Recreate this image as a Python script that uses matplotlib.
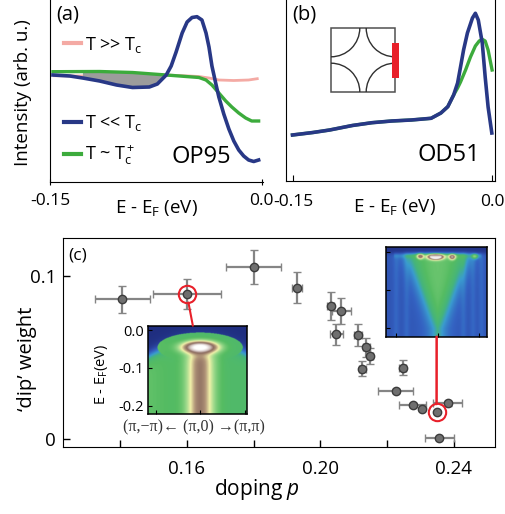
import numpy as np
import matplotlib
matplotlib.use("Agg")
import matplotlib.pyplot as plt
from matplotlib.colors import LinearSegmentedColormap
from matplotlib.patches import Arc, Rectangle, ConnectionPatch
from matplotlib.lines import Line2D

plt.rcParams['font.family'] = ['Open Sans', 'DejaVu Sans']
plt.rcParams['mathtext.fontset'] = 'custom'
plt.rcParams['mathtext.rm'] = 'Open Sans'
plt.rcParams['mathtext.it'] = 'Open Sans:italic'
plt.rcParams['mathtext.bf'] = 'Open Sans:bold'
plt.rcParams['axes.unicode_minus'] = False

# ---------------- data: panel (a) OP95 EDCs ----------------
E_a_cold = [-0.1479, -0.1359, -0.1268, -0.1148, -0.1028, -0.0915, -0.0796, -0.0739, -0.0676,
            -0.0641, -0.0606, -0.0563, -0.0528, -0.0493, -0.0458, -0.0423, -0.0394, -0.0373,
            -0.0352, -0.0324, -0.0303, -0.0268, -0.0232, -0.0197, -0.0162, -0.0127, -0.0092,
            -0.0056, -0.0021]
I_a_cold = [1.07, 1.06, 1.04, 1.01, 0.97, 0.945, 0.95, 0.98, 1.07,
            1.16, 1.30, 1.49, 1.60, 1.645, 1.653, 1.62, 1.49, 1.35,
            1.16, 0.98, 0.85, 0.68, 0.53, 0.41, 0.32, 0.26, 0.22,
            0.205, 0.22]
E_a_tc = [-0.1479, -0.1148, -0.0915, -0.0676, -0.0444, -0.0394, -0.0352, -0.0303, -0.0254,
          -0.0211, -0.0162, -0.0113, -0.0070, -0.0021]
I_a_tc = [1.103, 1.105, 1.095, 1.07, 1.045, 1.02, 0.97, 0.89, 0.81,
          0.75, 0.69, 0.64, 0.61, 0.61]
E_a_hot = [-0.1479, -0.1289, -0.1077, -0.0796, -0.0585, -0.0444, -0.0373, -0.0303, -0.0197,
           -0.0092, -0.0021]
I_a_hot = [1.063, 1.06, 1.07, 1.075, 1.065, 1.055, 1.04, 1.02, 1.015, 1.02, 1.035]

# ---------------- data: panel (b) OD51 EDCs ----------------
E_b_cold = [-0.1505, -0.1351, -0.1225, -0.1054, -0.0906, -0.0757, -0.0609, -0.0460, -0.0386,
            -0.0334, -0.0290, -0.0260, -0.0238, -0.0215, -0.0186, -0.0148, -0.0126, -0.0104,
            -0.0074, -0.0052, -0.0030, -0.0002]
I_b_cold = [0.46, 0.485, 0.51, 0.555, 0.583, 0.60, 0.61, 0.627, 0.68,
            0.743, 0.86, 0.98, 1.14, 1.31, 1.48, 1.63, 1.677, 1.61,
            1.38, 1.04, 0.74, 0.48]
E_b_tc = [-0.1505, -0.1351, -0.1225, -0.1054, -0.0906, -0.0757, -0.0609, -0.0460, -0.0386,
          -0.0334, -0.0290, -0.0260, -0.0238, -0.0200, -0.0163, -0.0126, -0.0097, -0.0074,
          -0.0052, -0.0030, -0.0015, 0.0]
I_b_tc = [0.46, 0.485, 0.51, 0.555, 0.583, 0.60, 0.61, 0.627, 0.68,
          0.743, 0.86, 0.93, 0.99, 1.11, 1.24, 1.35, 1.40, 1.417,
          1.40, 1.31, 1.21, 1.11]

# ---------------- data: panel (c) dip weight vs doping ----------------
doping = [0.1407, 0.1600, 0.1800, 0.1931, 0.2031, 0.2063, 0.2048, 0.2113, 0.2138,
          0.2149, 0.2126, 0.2246, 0.2226, 0.2276, 0.2303, 0.2348, 0.2381, 0.2356]
dip_weight = [0.0857, 0.0886, 0.1055, 0.0927, 0.0814, 0.0786, 0.0641, 0.0637, 0.0561,
              0.0508, 0.0429, 0.0437, 0.0294, 0.0208, 0.0184, 0.0163, 0.0218, 0.0004]
doping_err = [0.0083, 0.0102, 0.0082, 0.0015, 0.0010, 0.0028, 0.0020, 0.0012, 0.0010,
              0.0010, 0.0010, 0.0010, 0.0052, 0.0040, 0.0, 0.0, 0.0043, 0.0044]
weight_err = [0.0083, 0.0092, 0.0104, 0.0094, 0.0085, 0.0080, 0.0064, 0.0065, 0.0056,
              0.0048, 0.0046, 0.0046, 0.0015, 0.0015, 0.0, 0.0, 0.0015, 0.0]
highlight_idx = [1, 15]

# ---------------- inset spectral-map model parameters ----------------
# left (OP) map: spot and column along (pi,-pi)-(pi,0)-(pi,pi)
L_bg = 0.42
L_spot = dict(k=0.0, E=-0.047, sk=0.32, sE=0.013, amp=0.60)
L_col = dict(k=0.0, sk=0.21, E_on=-0.058, amp=0.37)
L_dome = dict(E0=-0.027, curv=0.03, w=0.009)
# right (OD) map: V-shaped band plus bright spots
R_bg = 0.17
R_vee = dict(E_tip=-0.20, w0=0.04, slope=3.7, amp=0.26, edge=0.11)
R_spots_k = [-0.05, -0.42, 0.35, 0.90]
R_spots_E = [-0.012, -0.010, -0.012, -0.010]
R_spots_amp = [0.72, 0.42, 0.45, 0.25]
R_spots_sk = [0.14, 0.06, 0.06, 0.06]
R_stripes_k = [-1.0, -0.75, 0.62, 0.85, 1.05]

# ---------------- figure ----------------
W, H = 506, 514
fig = plt.figure(figsize=(W / 100, H / 100), dpi=100)


def px_axes(x0, y0, x1, y1, **kw):
    return fig.add_axes([x0 / W, 1 - y1 / H, (x1 - x0) / W, (y1 - y0) / H], **kw)


navy = '#283886'
green = '#3cab3c'
pink = '#f4aaa4'

# ---- panel (a)
axa = px_axes(50, -1, 263, 182)
axa.plot(E_a_hot, I_a_hot, color=pink, lw=2.0, solid_capstyle='butt')
Eg = np.linspace(-0.127, -0.0676, 200)
cold_g = np.interp(Eg, E_a_cold, I_a_cold)
tc_g = np.interp(Eg, E_a_tc, I_a_tc)
axa.fill_between(Eg, cold_g, tc_g, where=tc_g > cold_g, color='#9c9c9c', lw=0, zorder=2.5)
axa.plot(E_a_tc, I_a_tc, color=green, lw=2.4, zorder=3)
axa.plot(E_a_cold, I_a_cold, color=navy, lw=2.6, zorder=3.5)
axa.set_xlim(-0.15, 0.001)
axa.set_ylim(0, 1.83)
axa.set_xticks([-0.15, 0.0])
axa.set_xticklabels(['-0.15', '0.0'])
axa.set_yticks([])
for s in ['top', 'right']:
    axa.spines[s].set_visible(False)
axa.tick_params(axis='x', direction='inout', length=4, labelsize=12.5, pad=6)
axa.set_xlabel(r'E - E$_\mathrm{F}$ (eV)', fontsize=13.5)
axa.xaxis.set_label_coords(0.5, -0.09)
axa.set_ylabel('Intensity (arb. u.)', fontsize=13.5, va='center')
axa.yaxis.set_label_coords(-0.125, 0.49)
axa.text(0.03, 0.915, '(a)', transform=axa.transAxes, fontsize=14.5, va='center', ha='left')
axa.text(0.71, 0.137, 'OP95', transform=axa.transAxes, fontsize=17, va='center', ha='center')
leg1 = axa.legend(handles=[Line2D([], [], color=pink, lw=3)], labels=[r'T >> T$_\mathrm{c}$'],
                  loc='center left', bbox_to_anchor=(0.065, 0.75), frameon=False, fontsize=13,
                  handlelength=0.95, handletextpad=0.2, borderpad=0, borderaxespad=0)
axa.add_artist(leg1)
axa.legend(handles=[Line2D([], [], color=navy, lw=3), Line2D([], [], color=green, lw=3)],
           labels=[r'T << T$_\mathrm{c}$', r'T ~ T$_\mathrm{c}^+$'],
           loc='center left', bbox_to_anchor=(0.065, 0.228), frameon=False, fontsize=13,
           handlelength=0.95, handletextpad=0.2, borderpad=0, borderaxespad=0, labelspacing=0.55)

# ---- panel (b)
axb = px_axes(286, -1, 495, 181)
axb.plot(E_b_tc, I_b_tc, color=green, lw=2.4)
axb.plot(E_b_cold, I_b_cold, color=navy, lw=2.6)
axb.set_xlim(-0.1554, 0.0022)
axb.set_ylim(0, 1.82)
axb.set_xticks([-0.15, 0.0])
axb.set_xticklabels(['-0.15', '0.0'])
axb.set_yticks([])
axb.spines['top'].set_visible(False)
axb.tick_params(axis='x', direction='in', length=4, labelsize=12.5, pad=9)
axb.set_xlabel(r'E - E$_\mathrm{F}$ (eV)', fontsize=13.5)
axb.xaxis.set_label_coords(0.52, -0.09)
axb.text(0.03, 0.915, '(b)', transform=axb.transAxes, fontsize=14.5, va='center', ha='left')
axb.text(0.777, 0.144, 'OD51', transform=axb.transAxes, fontsize=17, va='center', ha='center')

# Brillouin-zone sketch inset
axz = px_axes(331, 28, 395, 92)
axz.set_xlim(0, 1)
axz.set_ylim(0, 1)
axz.axis('off')
axz.add_patch(Rectangle((0, 0), 1, 1, fill=False, ec='#505050', lw=1.1, clip_on=False))
for cx, cy, t1, t2 in [(0, 0, 0, 90), (1, 0, 90, 180), (1, 1, 180, 270), (0, 1, 270, 360)]:
    axz.add_patch(Arc((cx, cy), 0.9, 0.9, theta1=t1, theta2=t2, color='#303030', lw=1.0))
axz.add_patch(Rectangle((0.95, 0.22), 0.105, 0.545, color='#e8202a', lw=0, clip_on=False))

# ---- panel (c)
axc = px_axes(63, 238, 495, 447)
axc.errorbar(doping, dip_weight, xerr=doping_err, yerr=weight_err, fmt='o', ms=6,
             mfc='#6f6f6f', mec='#3c3c3c', mew=1.0, ecolor='#858585', elinewidth=1.6,
             capsize=3, capthick=1.4, zorder=3)
hx = [doping[i] for i in highlight_idx]
hy = [dip_weight[i] for i in highlight_idx]
axc.plot(hx, hy, 'o', ms=12.5, mfc='none', mec='#e8202a', mew=1.5, zorder=4)
axc.set_xlim(0.1229, 0.2523)
axc.set_ylim(-0.0049, 0.1231)
axc.set_xticks([0.14, 0.16, 0.18, 0.20, 0.22, 0.24])
axc.set_xticklabels(['', '0.16', '', '0.20', '', '0.24'])
axc.set_yticks([0, 0.1])
axc.set_yticklabels(['0', '0.1'])
axc.tick_params(direction='in', length=4.8, width=1, labelsize=13.5, pad=9)
axc.tick_params(axis='y', pad=5)
axc.set_xlabel('doping $p$', fontsize=15, va='baseline')
axc.xaxis.set_label_coords(0.45, -0.23)
axc.set_ylabel('\u2018dip\u2019 weight', fontsize=14.5, va='center')
axc.yaxis.set_label_coords(-0.083, 0.42)
axc.text(0.012, 0.915, '(c)', transform=axc.transAxes, fontsize=12.5, va='center', ha='left')

# colormap for ARPES-style maps
arpes_cmap = LinearSegmentedColormap.from_list('arpes', [
    (0.00, '#1a2470'), (0.12, '#2b45a2'), (0.20, '#3462c2'), (0.30, '#3a9ccf'),
    (0.37, '#45b47c'), (0.44, '#55bc62'), (0.54, '#9ad88a'), (0.64, '#f2f2aa'),
    (0.74, '#b09478'), (0.82, '#8a6a5e'), (0.92, '#d4c6c4'), (1.00, '#ffffff')])

# left map
kL = np.linspace(-1.17, 1.05, 240)
EL = np.linspace(-0.2227, 0.0114, 240)
KK, EE = np.meshgrid(kL, EL)
vin = L_bg + 0.05 * np.clip(-(KK + 0.4), 0, None)
spot_r = ((KK - L_spot['k']) / L_spot['sk']) ** 2 + ((EE - L_spot['E']) / L_spot['sE']) ** 2
vin = vin + L_spot['amp'] * np.exp(-0.5 * spot_r ** 1.3)
col = L_col['amp'] * np.exp(-0.5 * ((KK - L_col['k']) / L_col['sk']) ** 2) \
    / (1 + np.exp((EE - L_col['E_on']) / 0.006))
vin = vin + col * (1 - np.exp(-0.5 * spot_r))
edge = L_dome['E0'] - L_dome['curv'] * KK ** 2
s = 1 / (1 + np.exp(-(edge - EE) / L_dome['w']))
imgL = 0.04 + (np.clip(vin, 0, 1) - 0.04) * s
imgL = np.maximum(imgL, np.clip(vin, 0, 1) * (spot_r < 9))
axL = px_axes(148.3, 325.7, 247.3, 414.3)
axL.imshow(imgL, origin='lower', extent=[kL[0], kL[-1], EL[0], EL[-1]], aspect='auto',
           cmap=arpes_cmap, vmin=0, vmax=1, interpolation='bilinear')
axL.set_xticks([-1, 0, 1])
axL.set_xticklabels([])
axL.set_yticks([0.0, -0.1, -0.2])
axL.set_yticklabels(['0.0', '-0.1', '-0.2'])
axL.tick_params(direction='in', length=3, labelsize=10.5, pad=3)
for sp in axL.spines.values():
    sp.set_linewidth(1.1)
axL.set_ylabel(r'E - E$_\mathrm{F}$(eV)', fontsize=10.5, va='center')
axL.yaxis.set_label_coords(-0.47, 0.45)
axL.set_xlabel('(\u03c0,\u2212\u03c0)\u2190 (\u03c0,0) \u2192(\u03c0,\u03c0)', fontsize=11.5,
               family=['Liberation Serif', 'DejaVu Serif'], color='#333333')
axL.xaxis.set_label_coords(0.46, -0.06)

# right map
kR = np.linspace(-1.24, 1.18, 240)
ER = np.linspace(-0.222, 0.013, 240)
KR, ER2 = np.meshgrid(kR, ER)
half = R_vee['w0'] + R_vee['slope'] * np.clip(ER2 - R_vee['E_tip'], 0, None)
vee = R_vee['amp'] / (1 + np.exp((np.abs(KR) - half) / R_vee['edge']))
vin = R_bg + vee + 0.04 * np.exp(-0.5 * (KR / 0.3) ** 2)
for kc in R_stripes_k:
    vin = vin + 0.04 * np.exp(-0.5 * ((KR - kc) / 0.05) ** 2)
vin = vin + 0.06 * np.exp(-0.5 * ((ER2 + 0.008) / 0.005) ** 2) * (np.abs(KR) < 1.05)
for kc, ec, a, sk in zip(R_spots_k, R_spots_E, R_spots_amp, R_spots_sk):
    vin = vin + a * np.exp(-0.5 * (((KR - kc) / sk) ** 2 + ((ER2 - ec) / 0.006) ** 2) ** 1.2)
sR = 1 / (1 + np.exp(-(-0.003 - ER2) / 0.003))
imgR = 0.06 + (np.clip(vin, 0, 1) - 0.06) * sR
axR = px_axes(386, 246.7, 486.7, 336.7)
axR.imshow(imgR, origin='lower', extent=[kR[0], kR[-1], ER[0], ER[-1]], aspect='auto',
           cmap=arpes_cmap, vmin=0, vmax=1, interpolation='bilinear')
axR.set_xticks([-1, 0, 1])
axR.set_yticks([0.0, -0.1, -0.2])
axR.set_xticklabels([])
axR.set_yticklabels([])
axR.tick_params(direction='in', length=3)
for sp in axR.spines.values():
    sp.set_linewidth(1.1)

# red connectors
c1 = ConnectionPatch(xyA=(doping[1], dip_weight[1]), coordsA=axc.transData,
                     xyB=(0.45, 1.0), coordsB=axL.transAxes, color='#e8202a', lw=1.5,
                     shrinkA=6, shrinkB=0)
fig.add_artist(c1)
c2 = ConnectionPatch(xyA=(doping[15], dip_weight[15]), coordsA=axc.transData,
                     xyB=(0.503, 0.0), coordsB=axR.transAxes, color='#e8202a', lw=1.8,
                     shrinkA=6, shrinkB=0)
fig.add_artist(c2)

fig.savefig('out.png', dpi=100)
